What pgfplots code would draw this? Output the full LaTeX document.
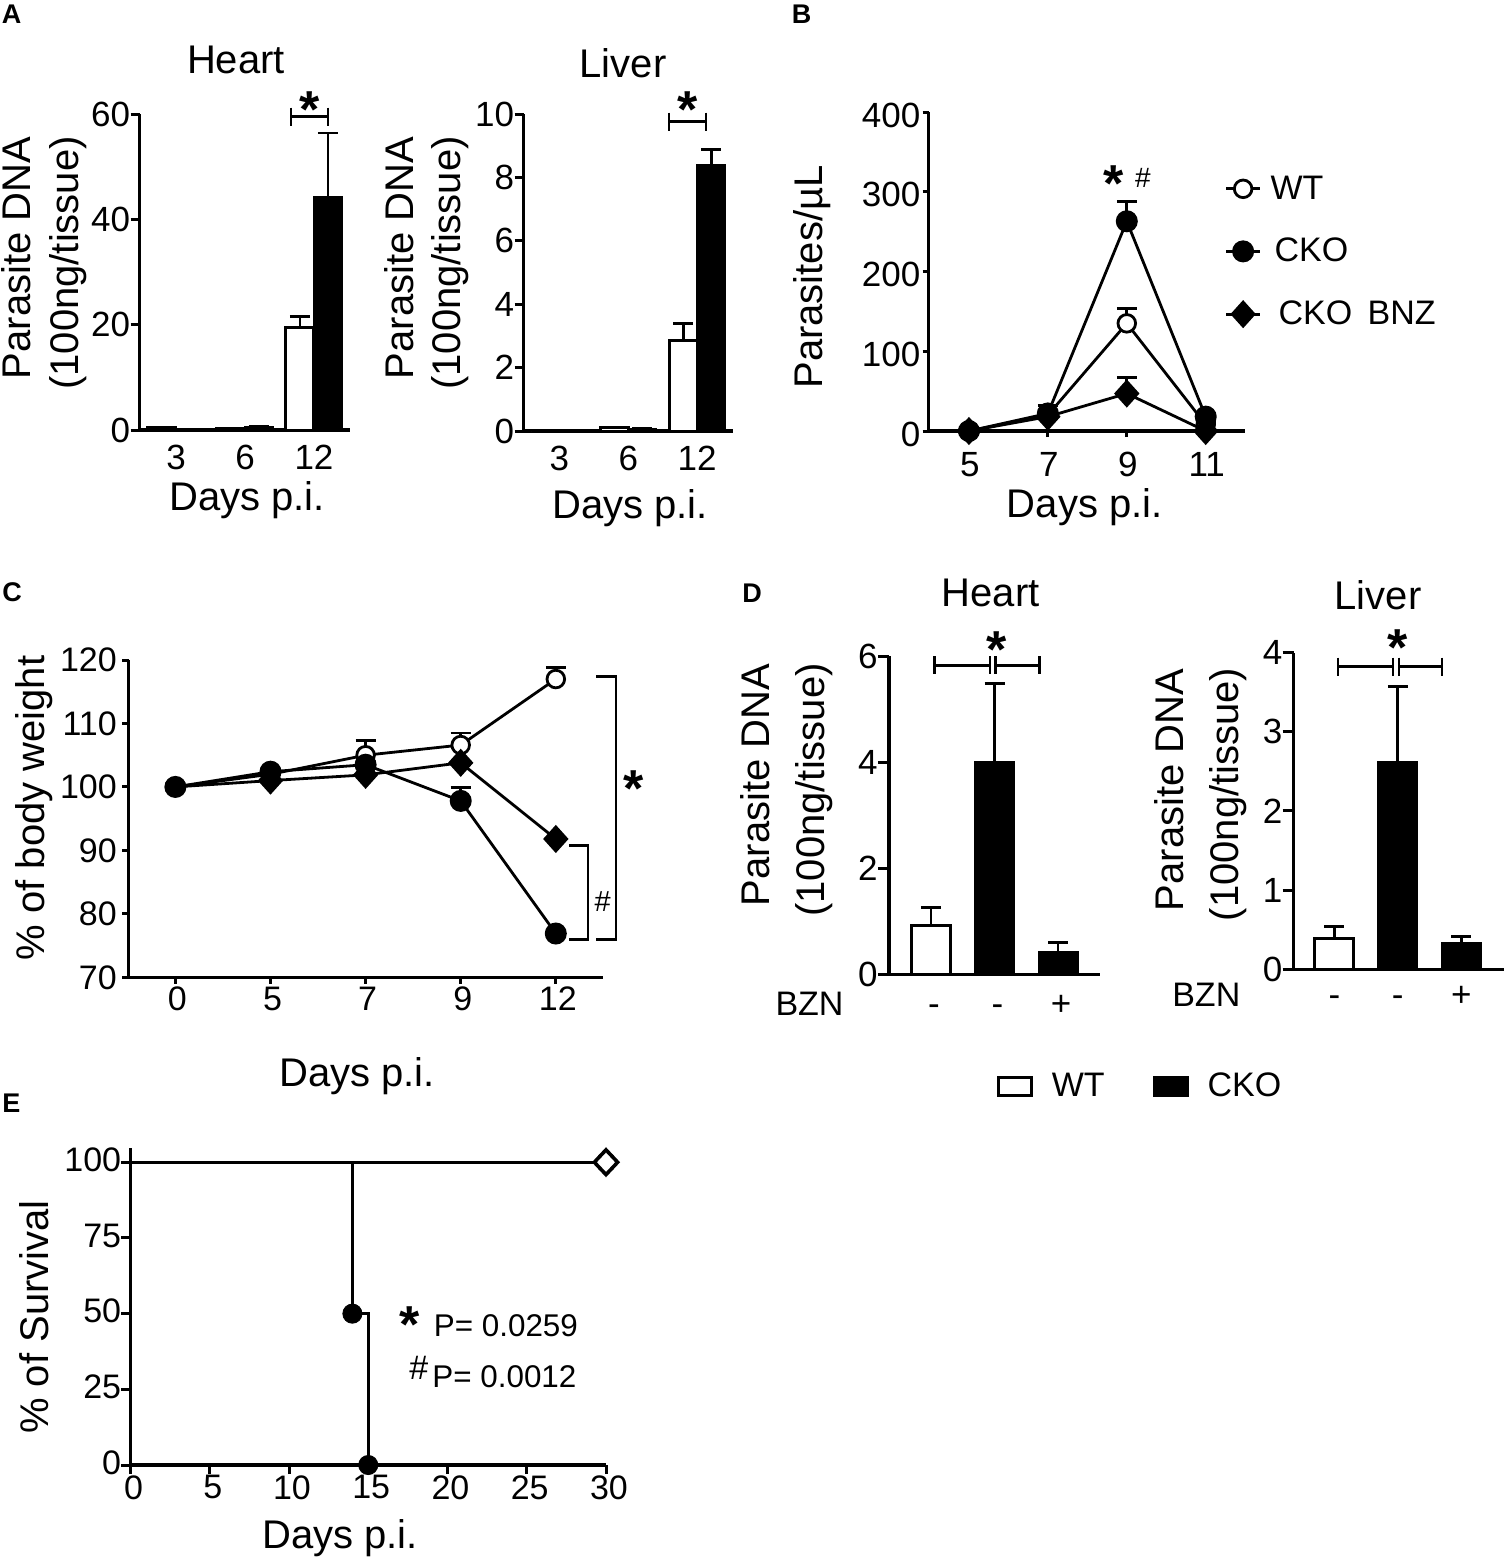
\documentclass[border=0pt]{standalone}
\usepackage{fontspec}
\usepackage{pgfplots}
\pgfplotsset{compat=1.18}
\setmainfont{Liberation Sans}

\newcommand{\fs}[1]{\fontsize{#1}{#1}\selectfont}

% all panels are placed in reference pixels, 1px = 0.5pt
% place={left x}{bottom y}{right x}{top y}
\pgfplotsset{
  place/.style n args={4}{
    at={({#1*0.5pt},{-(#2)*0.5pt})}, anchor=south west,
    scale only axis, width={(#3-#1)*0.5pt}, height={(#2-#4)*0.5pt}},
  panel/.style={
    axis x line=bottom, axis y line=left, clip=false,
    axis line style={-,line width=1.6pt,black},
    tick style={line width=1.5pt,black},
    tick align=outside,
    /pgf/number format/assume math mode=true,
    tick label style={font=\fs{17.5},inner sep=0pt,black},
    xtick pos=bottom, ytick pos=left},
  bars/.style={panel, ybar, xtick style={draw=none}},
  wtbar/.style={draw=black,fill=white,line width=1.5pt},
  kobar/.style={draw=black,fill=black,line width=1pt},
  errs/.style={error bars/.cd, y dir=plus, y explicit,
    error bar style={line width=1.4pt,black},
    error mark options={rotate=90,line width=1.4pt,mark size=#1,black}},
  errs/.default=5pt,
  wtline/.style={black,line width=1.4pt,mark=*,mark size=4.4pt,
    mark options={fill=white,draw=black,line width=1.4pt,solid}},
  koline/.style={black,line width=1.4pt,mark=*,mark size=4.8pt,
    mark options={fill=black,draw=black}},
  bzline/.style={black,line width=1.4pt,mark=diamond*,mark size=6pt,
    mark options={fill=black,draw=black,xscale=1.2}},
}

% text placed at a baseline point, in pixels
\newcommand{\lab}[4][]{\node[anchor=base,inner sep=0pt,font=\fs{20},#1] at (#2,#3) {#4};}
\newcommand{\ylab}[3]{\lab[rotate=90]{#1}{#2}{#3}}
\newcommand{\panellab}[3]{\node[anchor=base west,inner sep=0pt,font=\fs{13.5}\bfseries] at (#1,#2) {#3};}
\newcommand{\aster}[2]{\node[anchor=base,inner sep=0pt,font=\fs{26}\bfseries] at (#1,{#2+25}) {*};}
\newcommand{\sigbar}[3]{\draw[line width=1.4pt] (#1,#3-9)--(#1,#3+9) (#1,#3)--(#2,#3) (#2,#3-9)--(#2,#3+9);}

\begin{document}
\begin{tikzpicture}
\path[use as bounding box] (0pt,0pt) rectangle (752pt,-779pt);

% A heart
\begin{axis}[bars, place={139.5}{430}{350}{114},
  xmin=0.471, xmax=3.522, ymin=0, ymax=60,
  ytick={0,20,40,60}, xtick={1,2,3}, xticklabels={3,6,12},
  major tick length=4.5pt,
  xticklabel style={yshift=-3pt}, bar width=14pt]
\addplot[wtbar, bar shift=-7pt, errs] coordinates {(1,0.4) +- (0,0.15) (2,0.3) +- (0,0.1) (3,19.4) +- (0,2.1)};
\addplot[kobar, bar shift=7pt, errs] coordinates {(1,0) +- (0,0) (2,0.5) +- (0,0.1) (3,44.2) +- (0,12.2)};
\end{axis}

% A liver
\begin{axis}[bars, place={523.5}{431}{733}{114},
  xmin=0.478, xmax=3.52, ymin=0, ymax=10,
  ytick={0,2,4,6,8,10}, xtick={1,2,3}, xticklabels={3,6,12},
  major tick length=4.5pt,
  xticklabel style={yshift=-3pt}, bar width=14pt]
\addplot[wtbar, bar shift=-7pt, errs] coordinates {(1,0) +- (0,0) (2,0.1) +- (0,0.02) (3,2.84) +- (0,0.55)};
\addplot[kobar, bar shift=7pt, errs] coordinates {(1,0) +- (0,0) (2,0.07) +- (0,0.02) (3,8.39) +- (0,0.5)};
\end{axis}

% B
\begin{axis}[panel, place={928.7}{431}{1245}{112},
  xmin=3.98, xmax=11.996, ymin=0, ymax=400,
  ytick={0,100,200,300,400}, xtick={5,7,9,11},
  major tick length=3pt,
  yticklabel style={xshift=-1pt,yshift=-1.5pt}, xticklabel style={yshift=-7.5pt,xshift=0.5pt},
  legend style={at={(axis cs:11.47,225)},anchor=west,draw=none,fill=none,
    font=\fs{17},inner sep=0pt,row sep=14pt,cells={anchor=west}},
  legend cell align=left]
\addplot[wtline, errs] coordinates {(5,0) +- (0,0) (7,20) +- (0,12) (9,135) +- (0,19) (11,8) +- (0,3)};
\addplot[koline, errs] coordinates {(5,0) +- (0,0) (7,22) +- (0,10) (9,263) +- (0,25) (11,18) +- (0,3)};
\addplot[bzline, errs] coordinates {(5,0) +- (0,0) (7,18) +- (0,8) (9,47) +- (0,20) (11,0) +- (0,0)};
\legend{\hspace{2.5pt}WT,\hspace{4.5pt}CKO,\hspace{6.5pt}CKO\hspace{3pt} BNZ}
\end{axis}

% C
\begin{axis}[panel, place={128.6}{977.3}{602.7}{660},
  xmin=-0.492, xmax=4.493, ymin=70, ymax=120,
  ytick={70,80,...,120}, xtick={0,1,2,3,4}, xticklabels={0,5,7,9,12},
  major tick length=3.2pt,
  tick label style={font=\fs{17}},
  yticklabel style={xshift=-2.5pt}, xticklabel style={yshift=-1.5pt,xshift=1pt}]
\addplot[wtline, errs] coordinates {(0,100) +- (0,0) (1,102) +- (0,0) (2,105) +- (0,2.3) (3,106.6) +- (0,1.9) (4,117) +- (0,1.8)};
\addplot[bzline, mark indices={2,3,4,5}, errs] coordinates {(0,100) +- (0,0) (1,101) +- (0,0) (2,101.9) +- (0,0) (3,103.8) +- (0,0) (4,91.8) +- (0,0)};
\addplot[koline, errs] coordinates {(0,100) +- (0,0) (1,102.4) +- (0,0) (2,103.5) +- (0,0) (3,97.8) +- (0,2.1) (4,76.9) +- (0,0)};
\end{axis}

% D heart
\begin{axis}[bars, place={889}{974.2}{1100}{656.3},
  xmin=-0.661, xmax=2.661, ymin=0, ymax=6,
  ytick={0,2,4,6}, xtick={0,1,2}, xticklabels={{-},{-},{+}},
  major tick length=5.5pt, bar width=19.5pt,
  xticklabel style={anchor=base,yshift=-15pt,xshift=1.5pt},
  legend style={at={(axis cs:1.03,-2.11)},anchor=west,draw=none,fill=none,
    font=\fs{17},inner sep=0pt,column sep=7.5pt},
  legend columns=2,
  legend style={/tikz/every even column/.append style={column sep=22pt}},
  legend image code/.code={\draw[#1,line width=1.5pt] (0pt,-4.5pt) rectangle (16.5pt,4.5pt);}]
\addplot[wtbar, bar shift=0pt, errs] coordinates {(0,0.92) +- (0,0.34)};
\addplot[kobar, bar shift=0pt, errs] coordinates {(1,4.01) +- (0,1.47) (2,0.42) +- (0,0.18)};
\legend{WT,CKO}
\end{axis}

% D liver
\begin{axis}[bars, place={1293.7}{969.3}{1504}{652.5},
  xmin=-0.642, xmax=2.675, ymin=0, ymax=4,
  ytick={0,1,2,3,4}, xtick={0,1,2}, xticklabels={{-},{-},{+}},
  major tick length=5.5pt, bar width=19.5pt,
  xticklabel style={anchor=base,yshift=-13pt}]
\addplot[wtbar, bar shift=0pt, errs] coordinates {(0,0.39) +- (0,0.155)};
\addplot[kobar, bar shift=0pt, errs] coordinates {(1,2.62) +- (0,0.95) (2,0.337) +- (0,0.073)};
\end{axis}

% E
\begin{axis}[panel, place={130.5}{1465}{606}{1148},
  xmin=0, xmax=30, ymin=0, ymax=104.7,
  ytick={0,25,50,75,100}, xtick={0,5,...,30},
  major tick length=4.5pt,
  tick label style={font=\fs{17}},
  yticklabel style={yshift=1.2pt},
  xticklabel style={yshift=-0.5pt,xshift=1.5pt}]
\addplot[black,line width=1.4pt,mark=none,forget plot] coordinates {(0,100) (30,100)};
\addplot[only marks,mark=*,mark size=4.4pt,mark options={fill=white,draw=black,line width=1.4pt}] coordinates {(30,100)};
\addplot[only marks,mark=diamond*,mark size=6.2pt,mark options={fill=white,draw=black,line width=1.8pt,xscale=1.25}] coordinates {(30,100)};
\addplot[black,line width=1.4pt,mark=none,forget plot] coordinates {(0,100) (14,100) (14,50) (15,50) (15,0) (30,0)};
\addplot[only marks,mark=*,mark size=4.8pt,mark options={fill=black,draw=black}] coordinates {(14,50) (15,0)};
\end{axis}

\begin{scope}[x=0.5pt,y=-0.5pt]
\panellab{1.5}{23.6}{A}
\panellab{791.5}{23.7}{B}
\panellab{2}{601.7}{C}
\panellab{742}{602}{D}
\panellab{2}{1112.7}{E}

% A
\lab{236}{73.6}{Heart}
\lab{623}{77.7}{Liver}
\ylab{31}{258}{Parasite DNA}
\ylab{78}{263}{(100ng/tissue)}
\ylab{413}{258}{Parasite DNA}
\ylab{460}{263}{(100ng/tissue)}
\lab{247}{510}{Days p.i.}
\lab{630}{518.6}{Days p.i.}
\sigbar{291}{328}{116.5}
\aster{310}{102}
\sigbar{669}{706}{121.6}
\aster{688}{102}

% B
\ylab{822.5}{277}{Parasites/µL}
\lab{1084.7}{517}{Days p.i.}
\aster{1114}{176}
\lab[font=\fs{14}]{1143}{187}{\#}

% C
\ylab{44.6}{808}{\% of body weight}
\lab{357}{1086.7}{Days p.i.}
\draw[line width=1.4pt] (596,676.7)--(616,676.7)--(616,939.3)--(596,939.3);
\draw[line width=1.4pt] (569,845.7)--(588,845.7)--(588,939.3)--(569,939.3);
\aster{634}{781.7}
\lab[font=\fs{14.5}]{602.7}{911}{\#}

% D
\lab{990.6}{606}{Heart}
\lab{1378}{609.6}{Liver}
\ylab{769.5}{785}{Parasite DNA}
\ylab{824}{790}{(100ng/tissue)}
\ylab{1183}{790}{Parasite DNA}
\ylab{1238}{794.5}{(100ng/tissue)}
\lab[font=\fs{17}]{809.5}{1015}{BZN}
\lab[font=\fs{17}]{1206.3}{1006}{BZN}
\sigbar{934.8}{990}{665.4}
\sigbar{995.5}{1039.5}{665.4}
\aster{996.5}{642}
\sigbar{1338}{1393}{666.5}
\sigbar{1399}{1442}{666.5}
\aster{1398}{640}

% E
\ylab{48.4}{1317}{\% of Survival}
\lab{340}{1548}{Days p.i.}
\aster{410}{1317}
\node[anchor=base west,inner sep=0pt,font=\fs{15.7}] at (433.5,1336) {P= 0.0259};
\node[anchor=base west,inner sep=0pt,font=\fs{17}] at (409,1379) {\#};
\node[anchor=base west,inner sep=0pt,font=\fs{15.7}] at (432,1387) {P= 0.0012};
\end{scope}
\end{tikzpicture}
\end{document}
